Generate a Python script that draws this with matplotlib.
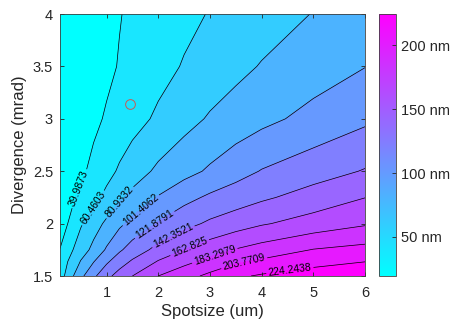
import numpy as np
import matplotlib.pyplot as plt
from matplotlib import colors as mcolors
from matplotlib.cm import ScalarMappable

# grid
spotsize = [0.1, 0.25, 0.5, 0.75, 1, 1.25, 1.5, 2, 2.5, 3, 3.5, 4, 5, 6]
divergence = [1.5, 1.75, 2, 2.25, 2.5, 3, 3.5, 4]
# beam size in nm, one row per divergence value
size_nm = [
    [49.0, 69.1, 96.0, 117.8, 136.5, 150.6, 162.8, 183.3, 196.1, 208.6, 220.7, 226.7, 233.8, 241.0],
    [40.2, 53.4, 70.7, 86.5, 103.8, 118.9, 130.6, 148.8, 162.8, 174.0, 184.4, 191.6, 204.6, 210.0],
    [35.8, 40.0, 58.3, 72.0, 84.9, 97.4, 107.2, 123.6, 135.8, 145.8, 153.3, 160.9, 171.2, 181.0],
    [32.3, 35.8, 43.1, 54.2, 65.6, 77.2, 86.5, 102.7, 115.5, 125.3, 132.2, 139.0, 151.0, 162.5],
    [29.4, 32.3, 37.1, 43.9, 53.8, 63.1, 71.2, 84.8, 94.6, 104.3, 114.1, 122.9, 133.3, 143.7],
    [25.0, 27.7, 32.2, 36.7, 41.6, 47.3, 53.0, 63.9, 74.0, 83.0, 89.6, 96.1, 107.6, 118.0],
    [22.0, 24.5, 28.5, 32.6, 36.7, 40.9, 45.1, 53.6, 61.9, 68.9, 75.8, 82.1, 91.6, 101.0],
    [19.6, 22.1, 26.4, 30.7, 35.0, 39.3, 42.7, 49.0, 55.4, 61.5, 66.6, 71.7, 81.6, 89.0],
]
levels = [39.9873, 60.4603, 80.9332, 101.4062, 121.8791, 142.3521,
          162.825, 183.2979, 203.7709, 224.2438]
z_min = 19.5143
cbar_ticks = [50, 100, 150, 200]
marker_spot = [1.45]
marker_div = [3.14]

# where the inline labels sit
label_pos = [(0.49, 2.33), (0.74, 2.15), (1.26, 2.20), (1.66, 2.13), (1.93, 1.99),
             (2.29, 1.88), (2.61, 1.77), (3.09, 1.70), (3.66, 1.63), (4.55, 1.54)]

plt.rcParams['font.family'] = ['Liberation Sans', 'DejaVu Sans']
txt = '#262626'

fig = plt.figure(figsize=(4.5, 3.23), dpi=100)
ax = fig.add_axes([0.1333, 0.1455, 0.6778, 0.8111])
cax = fig.add_axes([0.8422, 0.1455, 0.0371, 0.8111])

cmap = plt.get_cmap('cool')
norm = mcolors.Normalize(z_min, levels[-1])
X, Y = np.meshgrid(spotsize, divergence)
Z = np.array(size_nm)

fill_colors = [cmap(norm(v)) for v in [z_min] + levels]
ax.contourf(X, Y, Z, levels=[0] + levels + [1000], colors=fill_colors)
cs = ax.contour(X, Y, Z, levels=levels, colors='k', linewidths=0.5)


def fmt(v):
    return f"{v:.4f}".rstrip('0').rstrip('.')


ax.clabel(cs, fmt=fmt, fontsize=7.5, manual=label_pos, inline=True, inline_spacing=2)

ax.plot(marker_spot, marker_div, 'o', mfc='none', mec='#c85a55', ms=7, mew=0.7)

ax.set_xlim(spotsize[0], spotsize[-1])
ax.set_ylim(divergence[0], divergence[-1])
ax.set_xticks([1, 2, 3, 4, 5, 6])
ax.set_yticks([1.5, 2, 2.5, 3, 3.5, 4])
ax.set_yticklabels(['1.5', '2', '2.5', '3', '3.5', '4'])
ax.tick_params(direction='in', length=3, top=True, right=True, labelsize=10.5,
               colors=txt, width=0.6, pad=5)
ax.tick_params(axis='x', pad=7)
for s in ax.spines.values():
    s.set_color('#404040')
    s.set_linewidth(0.6)
ax.set_xlabel('Spotsize (um)', fontsize=12, color=txt, labelpad=3)
ax.set_ylabel('Divergence (mrad)', fontsize=12, color=txt, labelpad=4)

cb = fig.colorbar(ScalarMappable(norm=norm, cmap=cmap), cax=cax, ticks=cbar_ticks)
cb.ax.set_yticklabels([f'{t} nm' for t in cbar_ticks])
cb.ax.tick_params(direction='in', length=3, labelsize=10.5, colors=txt, width=0.6, pad=4)
cb.outline.set_edgecolor('#404040')
cb.outline.set_linewidth(0.6)

fig.savefig('out.png', dpi=100)
